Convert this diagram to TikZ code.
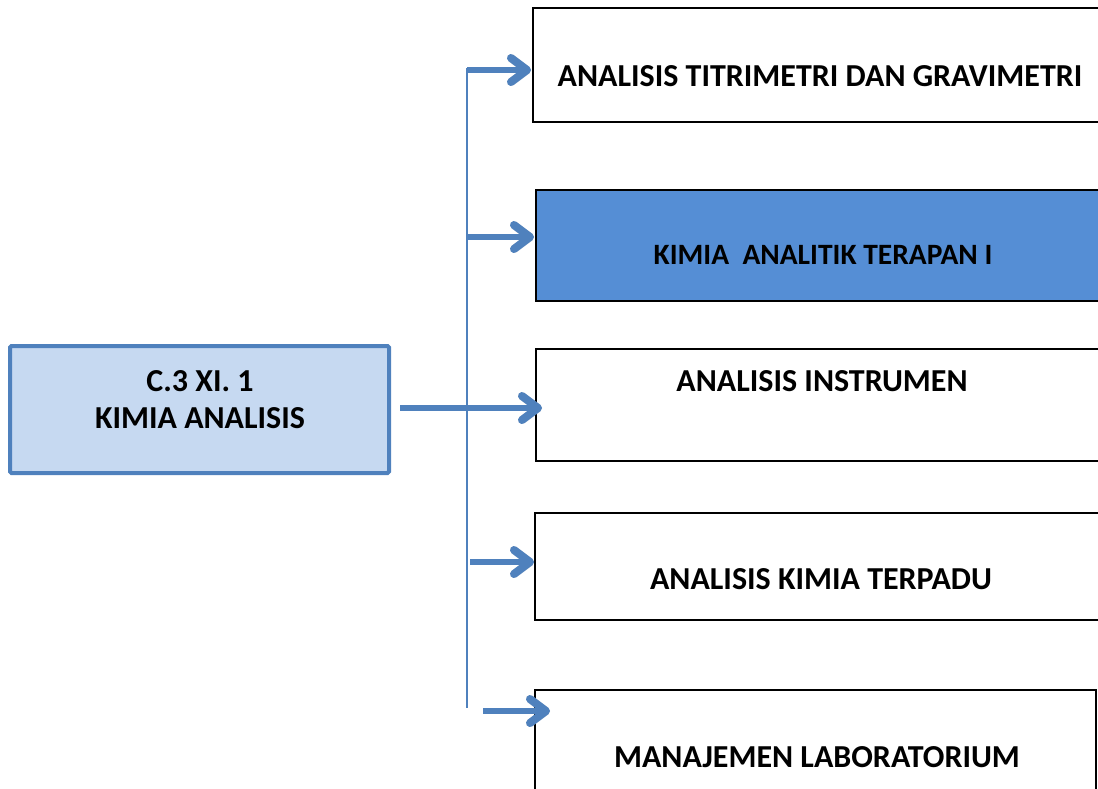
\documentclass[tikz,border=0pt]{standalone}
\usepackage{fontspec}
\setmainfont{Carlito}
\definecolor{linkblue}{HTML}{4F81BD}
\definecolor{rootfill}{HTML}{C6D9F1}
\definecolor{activefill}{HTML}{558ED5}
\tikzset{
  topicbox/.style={draw=black, line width=1.3pt},
  rootbox/.style={draw=linkblue, fill=rootfill, line width=4pt, rounded corners=1.5pt},
  label/.style={font=\bfseries\fontsize{32}{37}\selectfont, align=center, inner sep=0pt},
  trunk/.style={draw=linkblue, line width=2.4pt},
  shaft/.style={draw=linkblue, line width=5.5pt},
  barb/.style={draw=linkblue, line width=8pt, line cap=round, line join=round},
  shade/.style={draw=black!45, opacity=0.25},
}
\begin{document}
\begin{tikzpicture}[x=1pt, y=-1pt]
\useasboundingbox (0,0) rectangle (1098,788);
\begin{scope}
\clip (0,0) rectangle (1098,788);
% topic boxes on the right
\draw[topicbox] (1110,8) -- (533,8) -- (533,122) -- (1110,122);
\draw[topicbox, fill=activefill] (1110,190) -- (536,190) -- (536,301) -- (1110,301);
\draw[topicbox] (1110,349) -- (536,349) -- (536,461) -- (1110,461);
\draw[topicbox] (1110,513) -- (535,513) -- (535,620) -- (1110,620);
\draw[topicbox] (535,800) -- (535,690) -- (1096,690) -- (1096,800);
\end{scope}
\node[label] (t1) at (820,76) {ANALISIS TITRIMETRI DAN GRAVIMETRI};
\node[label, font=\bfseries\fontsize{29.5}{34}\selectfont] (t2) at (823,255) {KIMIA\ \ ANALITIK TERAPAN I};
\node[label] (t3) at (822,381) {ANALISIS INSTRUMEN};
\node[label] (t4) at (821,579) {ANALISIS KIMIA TERPADU};
\node[label] (t5) at (817,757) {MANAJEMEN LABORATORIUM};
% root box
\draw[rootbox] (10,346) rectangle (389,473);
\node[label] (root) at (200,400) {C.3 XI. 1\\ KIMIA ANALISIS};
% connector trunk
\coordinate (top) at (467,68);
\coordinate (bot) at (467,708);
\draw[trunk] (top) -- (bot);
% branch arrows: shaft plus a thick chevron head, with a faint shadow
\coordinate (s1) at (467,70);  \coordinate (e1) at (527,70);
\coordinate (s2) at (467,237); \coordinate (e2) at (530,237);
\coordinate (s3) at (400,408); \coordinate (e3) at (538,408);
\coordinate (s4) at (470,562); \coordinate (e4) at (530,562);
\coordinate (s5) at (483,711); \coordinate (e5) at (546,711);
\foreach \i in {1,...,5} {
  \begin{scope}[shift={(2,4)}]
    \draw[shaft, shade] (s\i) -- (e\i);
    \draw[barb, shade] ([shift={(-16,-12)}]e\i) -- (e\i) -- ([shift={(-16,12)}]e\i);
  \end{scope}
  \draw[shaft] (s\i) -- ([xshift=-3pt]e\i);
  \draw[barb] ([shift={(-16,-12)}]e\i) -- (e\i) -- ([shift={(-16,12)}]e\i);
}
\end{tikzpicture}
\end{document}
